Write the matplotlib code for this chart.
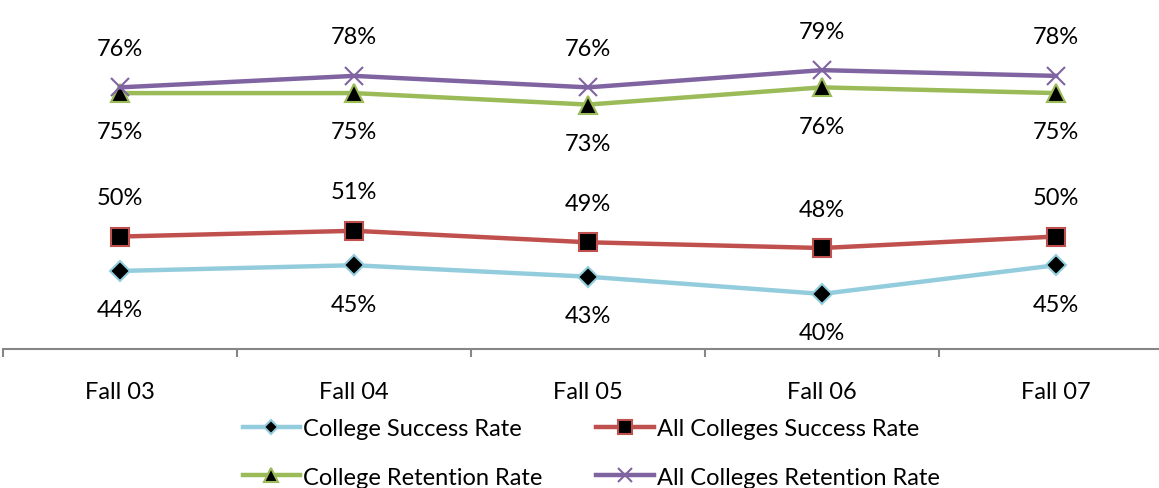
import matplotlib
matplotlib.use("Agg")
import matplotlib.pyplot as plt
from matplotlib.ticker import FixedLocator

plt.rcParams['font.family'] = ['Lato', 'DejaVu Sans']

categories = ["Fall 03", "Fall 04", "Fall 05", "Fall 06", "Fall 07"]
college_success = [44, 45, 43, 40, 45]
all_success = [50, 51, 49, 48, 50]
college_retention = [75, 75, 73, 76, 75]
all_retention = [76, 78, 76, 79, 78]

W, H = 1159, 489
fig = plt.figure(figsize=(W / 100, H / 100), dpi=100)
ax = fig.add_axes([3 / W, (H - 350) / H, 1170 / W, 350 / H])
ax.set_xlim(-0.5, 4.5)
ax.set_ylim(30.4, 91.4)

x = list(range(len(categories)))
FS = 17

series = [
    ("College Success Rate", college_success, "#93CDDD", "D", 10, "#93CDDD", -1),
    ("All Colleges Success Rate", all_success, "#C0504D", "s", 13, "#C0504D", 1),
    ("College Retention Rate", college_retention, "#9BBB59", "^", 13, "#9BBB59", -1),
    ("All Colleges Retention Rate", all_retention, "#8064A2", "x", 13, "#8064A2", 1),
]

handles = []
for name, vals, col, mk, ms, ec, side in series:
    if mk == "x":
        h, = ax.plot(x, vals, color=col, lw=3.2, marker=mk, ms=ms, mec=ec, mew=1.5,
                     label=name, zorder=3, clip_on=False)
    else:
        h, = ax.plot(x, vals, color=col, lw=3.2, marker=mk, ms=ms, mfc="black",
                     mec=ec, mew=1.5, label=name, zorder=3, clip_on=False)
    handles.append(h)
    for xi, v in zip(x, vals):
        ax.annotate(f"{v}%", (xi, v), xytext=(0, side * 28), textcoords="offset points",
                    ha="center", va="center", fontsize=FS, color="black")

for s in ["left", "right", "top"]:
    ax.spines[s].set_visible(False)
ax.spines["bottom"].set_color("#868686")
ax.spines["bottom"].set_linewidth(1.5)
ax.set_yticks([])
ax.set_xticks(x)
ax.set_xticklabels(categories, fontsize=FS)
ax.tick_params(axis="x", which="major", length=0, pad=23)
ax.xaxis.set_minor_locator(FixedLocator([-0.5, 0.5, 1.5, 2.5, 3.5, 4.5]))
ax.tick_params(axis="x", which="minor", length=6, width=1.5, color="#868686")

order = [0, 2, 1, 3]
fig.legend(handles=[handles[i] for i in order], loc="center",
           bbox_to_anchor=(591 / W, 1 - 454 / H),
           ncol=2, frameon=False, fontsize=FS, handlelength=2.45, handletextpad=0.1,
           columnspacing=2.3, labelspacing=1.15, markerscale=0.75)

fig.savefig("out.png", dpi=100)
